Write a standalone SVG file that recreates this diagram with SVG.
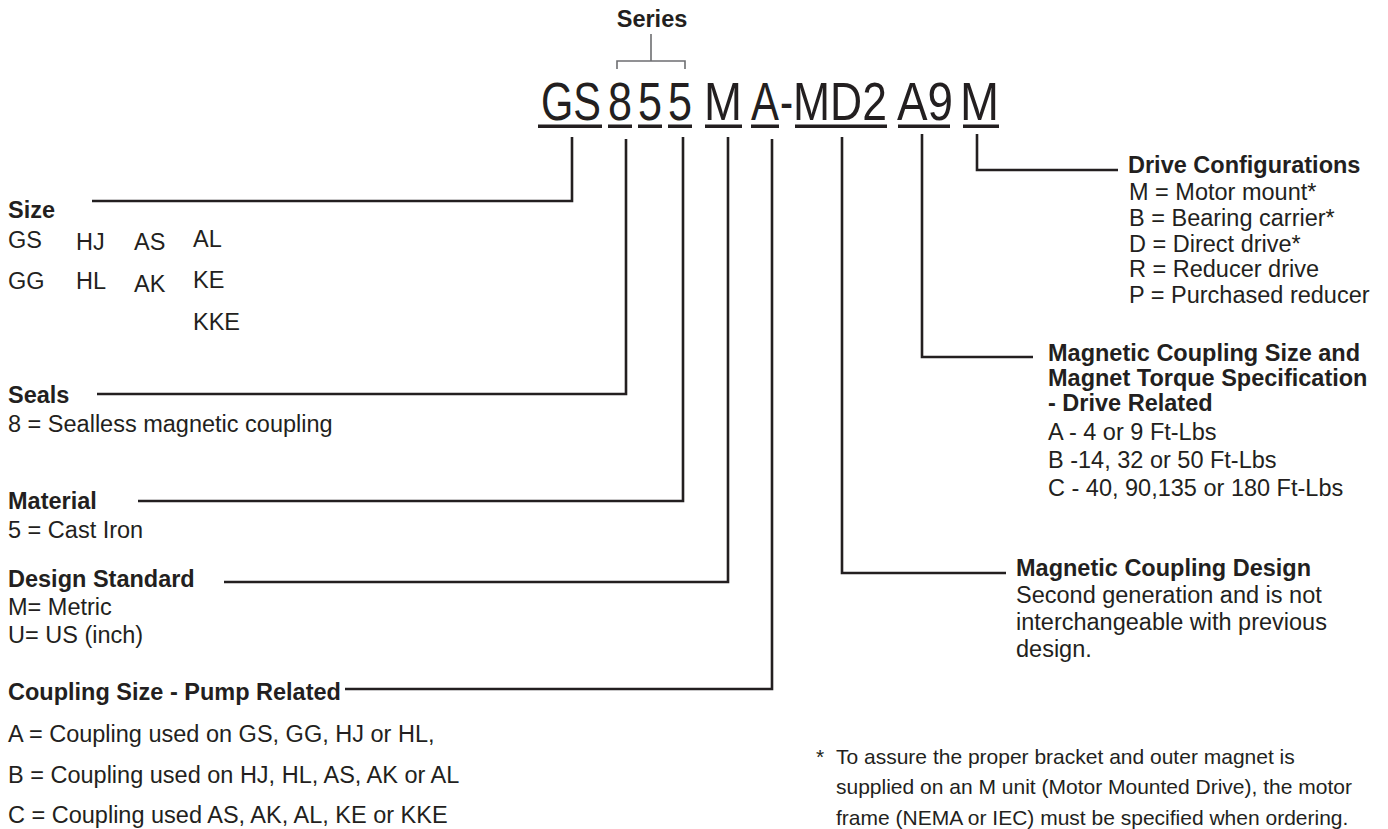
<svg xmlns="http://www.w3.org/2000/svg" width="1388" height="829" viewBox="0 0 1388 829">
<style>
text{font-family:"Liberation Sans",Arial,sans-serif;fill:#231f20}
.b{font-weight:bold;font-size:23.5px}
.r{font-size:23.5px}
.f{font-size:21px}
.code{font-size:53px}
.ln{fill:none;stroke:#231f20;stroke-width:2.6}
.br{fill:none;stroke:#6d6e71;stroke-width:1.6}
.ul{fill:#231f20}
</style>
<rect width="1388" height="829" fill="#fff"/>
<g id="connectors">
<path class="br" d="M651,34 V61 M617,69 V61 H685 V69"/>
<path class="ln" d="M572,137 V201 H92"/>
<path class="ln" d="M626,139 V394 H97"/>
<path class="ln" d="M683,137 V501 H138"/>
<path class="ln" d="M728,137 V582 H224"/>
<path class="ln" d="M772,139 V689 H345"/>
<path class="ln" d="M842,137 V573 H1006"/>
<path class="ln" d="M922,134 V357 H1033"/>
<path class="ln" d="M977,134 V170 H1118"/>
</g>
<g id="series">
<text class="b" x="652" y="27" text-anchor="middle">Series</text>
</g>
<g id="code">
<text class="code" transform="translate(541,120) scale(0.783,1)">GS</text>
<text class="code" transform="translate(608,120) scale(0.814,1)">8</text>
<text class="code" transform="translate(638,120) scale(0.814,1)">5</text>
<text class="code" transform="translate(668,120) scale(0.814,1)">5</text>
<text class="code" transform="translate(704,120) scale(0.86,1)">M</text>
<text class="code" transform="translate(751,120) scale(0.79,1)">A</text>
<text class="code" transform="translate(780,120) scale(0.74,1)">-</text>
<text class="code" transform="translate(793,120) scale(0.84,1)">MD2</text>
<text class="code" transform="translate(897,120) scale(0.864,1)">A9</text>
<text class="code" transform="translate(960,120) scale(0.884,1)">M</text>
<rect class="ul" x="538" y="124.5" width="64" height="3.5"/>
<rect class="ul" x="608" y="124.5" width="24" height="3.5"/>
<rect class="ul" x="638" y="124.5" width="24" height="3.5"/>
<rect class="ul" x="668" y="124.5" width="24" height="3.5"/>
<rect class="ul" x="705" y="124.5" width="37" height="3.5"/>
<rect class="ul" x="751" y="124.5" width="28" height="3.5"/>
<rect class="ul" x="795" y="124.5" width="92" height="3.5"/>
<rect class="ul" x="898" y="124.5" width="52" height="3.5"/>
<rect class="ul" x="963" y="124.5" width="36" height="3.5"/>
</g>
<g id="size">
<text class="b" x="8" y="218">Size</text>
<text class="r" x="8" y="248">GS</text>
<text class="r" x="76" y="250">HJ</text>
<text class="r" x="134" y="250">AS</text>
<text class="r" x="193" y="247">AL</text>
<text class="r" x="8" y="289">GG</text>
<text class="r" x="76" y="289">HL</text>
<text class="r" x="134" y="292">AK</text>
<text class="r" x="193" y="288">KE</text>
<text class="r" x="193" y="330">KKE</text>
</g>
<g id="seals">
<text class="b" x="8" y="403">Seals</text>
<text class="r" x="8" y="432">8 = Sealless magnetic coupling</text>
</g>
<g id="material">
<text class="b" x="8" y="509">Material</text>
<text class="r" x="8" y="538">5 = Cast Iron</text>
</g>
<g id="design-standard">
<text class="b" x="8" y="587">Design Standard</text>
<text class="r" x="8" y="615">M= Metric</text>
<text class="r" x="8" y="643">U= US (inch)</text>
</g>
<g id="coupling-size">
<text class="b" x="8" y="700">Coupling Size - Pump Related</text>
<text class="r" x="8" y="742">A = Coupling used on GS, GG, HJ or HL,</text>
<text class="r" x="8" y="783">B = Coupling used on HJ, HL, AS, AK or AL</text>
<text class="r" x="8" y="823">C = Coupling used AS, AK, AL, KE or KKE</text>
</g>
<g id="drive-configurations">
<text class="b" x="1128" y="173">Drive Configurations</text>
<text class="r" x="1129" y="200">M = Motor mount*</text>
<text class="r" x="1129" y="226">B = Bearing carrier*</text>
<text class="r" x="1129" y="252">D = Direct drive*</text>
<text class="r" x="1129" y="277">R = Reducer drive</text>
<text class="r" x="1129" y="303">P = Purchased reducer</text>
</g>
<g id="magnetic-coupling-size">
<text class="b" x="1048" y="361">Magnetic Coupling Size and</text>
<text class="b" x="1048" y="386">Magnet Torque Specification</text>
<text class="b" x="1048" y="411">- Drive Related</text>
<text class="r" x="1048" y="440">A - 4 or 9 Ft-Lbs</text>
<text class="r" x="1048" y="468">B -14, 32 or 50 Ft-Lbs</text>
<text class="r" x="1048" y="496">C - 40, 90,135 or 180 Ft-Lbs</text>
</g>
<g id="magnetic-coupling-design">
<text class="b" x="1016" y="576">Magnetic Coupling Design</text>
<text class="r" x="1016" y="603">Second generation and is not</text>
<text class="r" x="1016" y="630">interchangeable with previous</text>
<text class="r" x="1016" y="657">design.</text>
</g>
<g id="footnote">
<text class="f" x="816" y="764">*</text>
<text class="f" x="836" y="764">To assure the proper bracket and outer magnet is</text>
<text class="f" x="836" y="794">supplied on an M unit (Motor Mounted Drive), the motor</text>
<text class="f" x="836" y="825">frame (NEMA or IEC) must be specified when ordering.</text>
</g>
</svg>
